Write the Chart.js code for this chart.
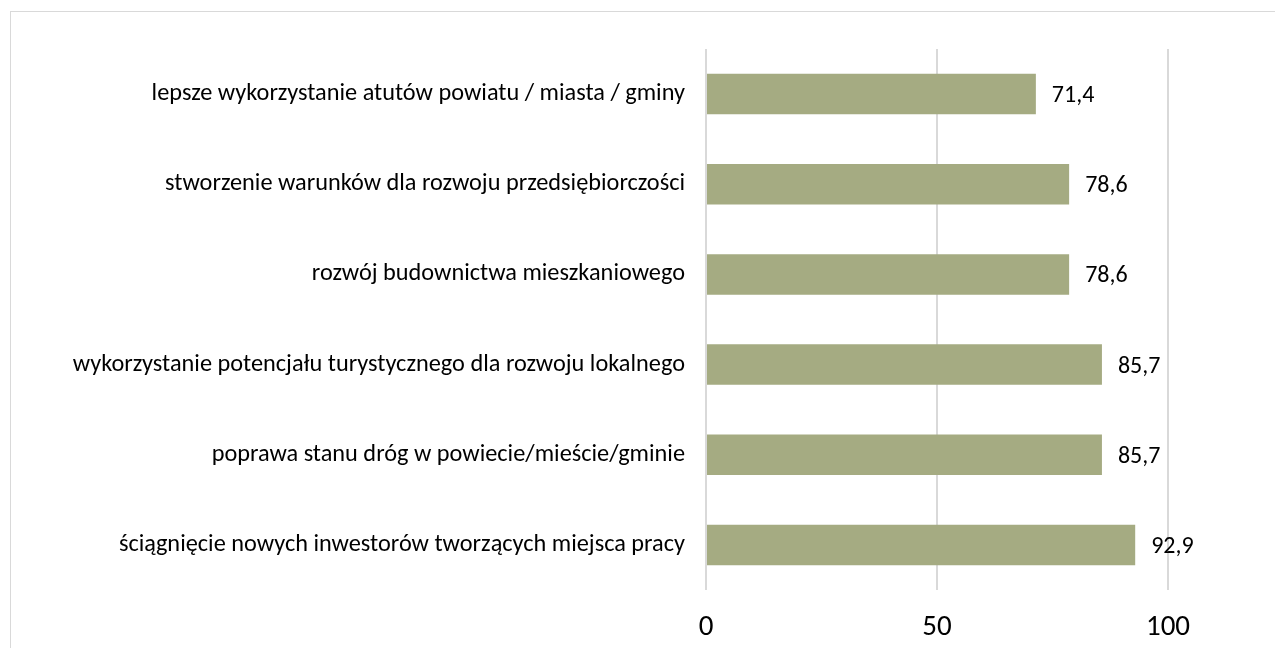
<!DOCTYPE html>
<html>
<head>
<meta charset="utf-8">
<script src="https://cdn.jsdelivr.net/npm/chart.js@4"></script>
<style>
  html, body { margin: 0; padding: 0; background: #fff; }
  #wrap { position: relative; width: 1275px; height: 648px; overflow: hidden; }
  #frame { position: absolute; left: 10px; top: 11px; width: 1300px; height: 700px; border: 1px solid #d9d9d9; box-sizing: border-box; }
  canvas { position: absolute; left: 0; top: 0; }
</style>
</head>
<body>
<div id="wrap">
  <div id="frame"></div>
  <canvas id="chart" width="1275" height="648"></canvas>
</div>
<script>
// --- DATA ---
const categories = [
    'lepsze wykorzystanie atutów powiatu / miasta / gminy',
    'stworzenie warunków dla rozwoju przedsiębiorczości',
    'rozwój budownictwa mieszkaniowego',
    'wykorzystanie potencjału turystycznego dla rozwoju lokalnego',
    'poprawa stanu dróg w powiecie/mieście/gminie',
    'ściągnięcie nowych inwestorów tworzących miejsca pracy'
];
const values = [71.4, 78.6, 78.6, 85.7, 85.7, 92.9];
const xTicks = [0, 50, 100];

const FONT = "Carlito, Lato, 'Open Sans', sans-serif";

// value labels at bar ends, comma as decimal separator
const valueLabels = {
    id: 'valueLabels',
    afterDatasetsDraw(chart) {
        const ctx = chart.ctx;
        const meta = chart.getDatasetMeta(0);
        ctx.save();
        ctx.font = '24px ' + FONT;
        ctx.fillStyle = '#000';
        ctx.textAlign = 'left';
        ctx.textBaseline = 'middle';
        meta.data.forEach((bar, i) => {
            ctx.fillText(values[i].toFixed(1).replace('.', ','), bar.x + 16, bar.y + 2);
        });
        ctx.restore();
    }
};

const ctx = document.getElementById('chart').getContext('2d');
new Chart(ctx, {
    type: 'bar',
    data: {
        labels: categories,
        datasets: [{
            data: values,
            backgroundColor: '#a5ab82',
            borderWidth: 0,
            categoryPercentage: 1,
            barPercentage: 0.45
        }]
    },
    options: {
        indexAxis: 'y',
        responsive: false,
        animation: false,
        layout: { padding: { left: 0, top: 49, right: 107, bottom: 0 } },
        plugins: { legend: { display: false }, tooltip: { enabled: false } },
        scales: {
            x: {
                min: 0,
                max: 100,
                afterBuildTicks: (scale) => { scale.ticks = xTicks.map(v => ({ value: v })); },
                afterFit: (scale) => { scale.height = 58; },
                grid: { color: '#d9d9d9', lineWidth: 2, drawTicks: false },
                border: { display: false },
                ticks: { color: '#000', font: { family: FONT, size: 29 }, padding: 20 }
            },
            y: {
                afterFit: (scale) => { scale.width = 706; },
                grid: { display: false, drawTicks: false },
                border: { display: false },
                ticks: { color: '#000', font: { family: FONT, size: 24.3 }, padding: 21 }
            }
        }
    },
    plugins: [valueLabels]
});
</script>
</body>
</html>
